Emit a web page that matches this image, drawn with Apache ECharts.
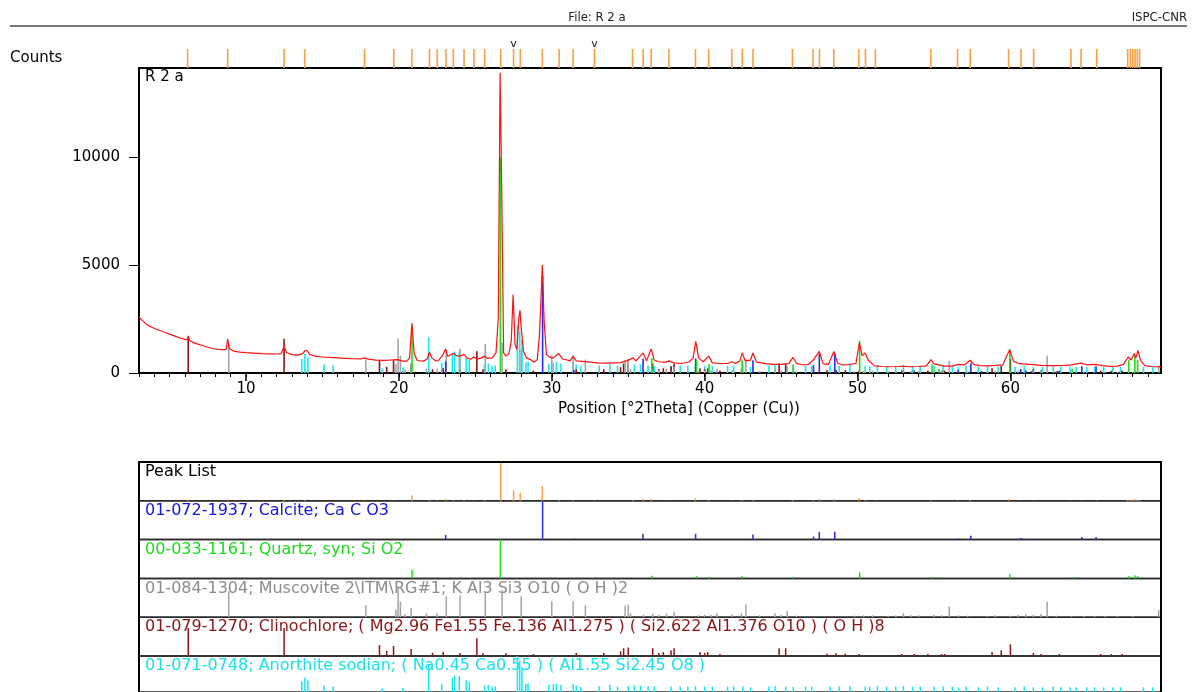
<!DOCTYPE html>
<html><head><meta charset="utf-8">
<script src="https://cdn.jsdelivr.net/npm/echarts@6/dist/echarts.min.js"></script>
<style>html,body{margin:0;padding:0;background:#fff}#c{width:1197px;height:692px}</style>
</head><body><div id="c"></div>
<script>
// ---------------- DATA ----------------
// measured pattern: [2theta, counts]
const pattern = [
[3.0,2600],[3.2,2450],[3.5,2250],[3.8,2130],[4.1,2040],[4.5,1930],[4.9,1820],[5.3,1720],[5.7,1620],[6.0,1560],
[6.15,1540],[6.22,1720],[6.3,1520],[6.5,1430],[6.8,1350],[7.2,1260],[7.6,1170],[8.0,1110],[8.4,1080],[8.7,1090],
[8.8,1570],[8.9,1150],[9.2,1010],[9.6,970],[10.0,940],[10.5,920],[11.0,900],[11.5,890],[12.0,880],[12.3,900],
[12.49,1230],[12.65,950],[13.0,850],[13.4,830],[13.7,900],[13.85,1030],[14.0,1040],[14.15,870],[14.5,780],[15.0,740],
[15.5,720],[16.0,700],[16.5,680],[17.0,660],[17.5,650],[17.75,700],[18.0,640],[18.5,600],[19.0,580],[19.3,590],
[19.6,610],[19.9,620],[20.2,560],[20.5,540],[20.7,700],[20.85,2300],[21.0,900],[21.2,580],[21.6,550],[21.85,650],
[22.0,960],[22.15,700],[22.4,560],[22.6,580],[22.85,800],[23.05,1110],[23.2,760],[23.45,880],[23.6,900],[23.8,780],
[24.05,800],[24.25,860],[24.45,700],[24.7,640],[24.91,750],[25.1,640],[25.4,700],[25.61,780],[25.8,680],[26.1,700],
[26.35,930],[26.5,2500],[26.62,13900],[26.72,8800],[26.85,930],[27.0,780],[27.2,900],[27.35,1500],[27.47,3620],[27.6,1300],
[27.72,1100],[27.85,2600],[27.92,2900],[28.0,2100],[28.15,1000],[28.35,700],[28.6,620],[28.85,500],[29.05,620],[29.2,1800],
[29.38,5000],[29.5,2400],[29.65,850],[29.9,720],[30.1,700],[30.45,900],[30.7,650],[31.0,600],[31.2,560],[31.39,770],
[31.6,560],[32.0,540],[32.5,500],[33.0,470],[33.5,460],[34.0,470],[34.5,480],[34.9,560],[35.1,620],[35.3,700],
[35.5,560],[35.98,930],[36.2,560],[36.5,1110],[36.7,600],[37.0,520],[37.4,490],[37.66,560],[38.0,470],[38.5,440],
[39.0,520],[39.25,700],[39.42,1460],[39.6,700],[39.9,520],[40.27,780],[40.5,470],[41.0,440],[41.5,440],[41.78,520],
[42.0,440],[42.3,560],[42.46,930],[42.65,560],[43.0,600],[43.16,930],[43.4,500],[44.0,430],[44.5,400],[45.0,400],
[45.5,430],[45.78,720],[46.0,460],[46.4,370],[46.8,400],[47.1,600],[47.5,1000],[47.75,420],[48.1,400],[48.45,1000],
[48.7,450],[49.0,380],[49.5,390],[49.9,450],[50.12,1400],[50.3,800],[50.5,930],[50.7,600],[51.1,330],[51.6,300],
[52.0,290],[52.6,300],[53.0,310],[53.5,290],[54.0,300],[54.5,330],[54.8,620],[55.0,420],[55.3,380],[55.7,320],
[56.2,320],[56.6,400],[57.0,380],[57.37,590],[57.6,400],[58.0,340],[58.5,330],[59.0,350],[59.5,380],[59.95,1080],
[60.2,550],[60.5,450],[60.8,420],[61.3,400],[61.6,380],[62.0,350],[62.5,340],[63.0,340],[63.5,350],[64.0,380],
[64.6,460],[65.0,380],[65.6,400],[66.0,340],[66.5,310],[67.0,320],[67.4,400],[67.7,740],[67.9,600],[68.1,900],
[68.2,700],[68.35,1050],[68.5,600],[68.8,340],[69.2,300],[69.5,290],[69.85,280]
];

// peak list: [2theta, relative intensity %]
const peakList = [
[6.18,2],[8.80,4],[12.49,3],[13.84,2],[17.75,1],[19.67,1],[20.85,14],[22.00,3],[22.51,1],[23.08,4],
[23.56,2],[24.26,2],[24.91,1],[25.61,2],[26.66,100],[27.50,27],[27.94,21],[29.38,38],[30.48,2],[31.39,2],
[32.79,1],[35.28,2],[35.98,4],[36.50,4],[37.66,1],[39.40,7],[40.26,2],[41.78,1],[42.46,3],[43.16,3],
[45.74,2],[47.09,3],[47.51,4],[48.45,4],[50.08,7],[50.52,3],[51.17,1],[54.79,2],[56.54,1],[57.37,2],
[59.88,5],[60.69,1],[61.52,1],[63.96,1],[64.62,1],[65.64,1],[67.67,2],[67.85,2],[68.00,3],[68.15,4],
[68.30,3],[68.45,2]
];
const peakMarks = [27.50, 32.79];

// reference patterns: [2theta, relative intensity %]
const calcite = [
[23.06,12],[29.40,100],[31.44,3],[35.97,15],[39.41,15],[43.16,13],[47.12,8],[47.50,20],[48.51,20],[56.57,3],
[57.41,10],[58.10,2],[60.68,4],[61.00,2],[61.38,2],[63.06,2],[64.67,7],[65.60,7]
];
const quartz = [
[20.86,22],[26.64,100],[36.54,7],[39.47,6],[40.29,4],[42.45,6],[45.79,4],[50.14,15],[54.87,4],[55.33,2],
[59.96,11],[64.04,2],[67.74,6],[68.14,8],[68.32,6]
];
const muscovite = [
[8.87,67],[17.84,31],[19.80,20],[19.95,80],[20.10,40],[20.40,8],[20.80,23],[21.80,10],[22.50,10],[23.10,54],
[24.00,56],[25.65,67],[26.75,70],[28.00,54],[30.00,41],[31.40,41],[32.20,31],[34.80,30],[35.00,33],[35.15,10],
[36.00,6],[36.60,8],[37.00,6],[37.50,10],[38.00,14],[39.60,5],[40.00,6],[40.40,6],[40.80,10],[41.80,7],
[42.40,10],[42.70,33],[43.60,5],[44.60,10],[45.00,6],[45.40,16],[46.00,4],[49.80,4],[50.40,5],[51.00,5],
[52.00,4],[52.50,5],[53.00,10],[53.50,5],[54.00,5],[55.00,6],[55.50,5],[56.00,28],[56.60,5],[57.20,4],
[58.50,3],[59.00,5],[60.00,4],[60.50,6],[61.00,8],[61.50,6],[62.00,8],[62.40,40],[63.00,4],[64.00,3],
[64.80,3],[65.50,3],[66.20,3],[67.00,3],[68.00,3],[69.70,18]
];
const clinochlore = [
[6.22,72],[12.49,72],[18.73,28],[19.20,13],[19.65,26],[20.80,18],[22.20,8],[22.90,10],[24.00,8],[25.10,46],
[25.50,8],[27.00,8],[28.80,5],[31.60,8],[33.40,8],[34.50,12],[34.70,20],[35.00,22],[36.60,20],[37.00,8],
[37.30,10],[37.80,14],[38.00,20],[39.70,10],[40.00,8],[40.20,10],[41.00,5],[44.87,20],[45.30,20],[48.00,6],
[48.60,7],[49.20,6],[50.10,5],[52.90,5],[53.70,5],[54.60,5],[55.50,5],[55.70,5],[58.80,10],[59.40,15],
[60.00,30],[61.50,8],[62.00,5],[63.20,5],[65.90,5],[66.60,5],[67.30,5]
];
const anorthite = [
[13.65,30],[13.85,40],[14.05,32],[15.10,18],[15.70,16],[18.90,10],[20.26,12],[21.95,75],[22.80,22],[23.50,40],
[23.65,45],[23.95,45],[24.40,32],[24.60,28],[25.60,18],[25.85,20],[26.10,14],[26.30,16],[27.75,100],[27.90,88],
[28.05,70],[28.30,22],[28.45,24],[29.80,20],[30.10,22],[30.30,24],[30.60,20],[31.40,22],[31.60,18],[31.90,14],
[33.10,16],[33.80,20],[34.30,15],[35.00,16],[35.40,18],[35.80,18],[36.30,16],[36.70,15],[37.80,15],[38.40,16],
[38.90,15],[39.40,16],[40.00,15],[40.50,15],[41.50,15],[41.90,16],[42.50,15],[43.00,13],[44.20,15],[44.60,17],
[45.30,15],[45.80,15],[46.60,15],[47.00,15],[48.20,15],[48.80,15],[49.50,17],[50.50,15],[50.80,15],[51.30,17],
[51.90,15],[52.50,15],[53.00,17],[53.60,15],[54.10,15],[55.00,15],[55.60,15],[56.20,15],[56.60,13],[57.10,15],
[57.90,13],[58.50,15],[59.20,13],[60.30,13],[60.90,15],[61.50,13],[62.10,13],[62.80,15],[63.30,13],[63.90,13],
[64.30,13],[65.00,13],[65.50,13],[66.10,13],[66.70,13],[67.20,13],[68.70,13],[69.30,13]
];
// counts reached by a 100 % reference line in the main plot
const mainScale = {anorthite:2200, clinochlore:2200, muscovite:2000, calcite:4500, quartz:10000};

const xTickLabels = [10, 20, 30, 40, 50, 60];
const yTickLabels = [0, 5000, 10000];
const rowLabels = [
  'Peak List',
  '01-072-1937; Calcite; Ca C O3',
  '00-033-1161; Quartz, syn; Si O2',
  '01-084-1304; Muscovite 2\\ITM\\RG#1; K Al3 Si3 O10 ( O H )2',
  '01-079-1270; Clinochlore; ( Mg2.96 Fe1.55 Fe.136 Al1.275 ) ( Si2.622 Al1.376 O10 ) ( O H )8',
  '01-071-0748; Anorthite sodian; ( Na0.45 Ca0.55 ) ( Al1.55 Si2.45 O8 )'
];

// ---------------- LAYOUT / STYLE ----------------
const X_MIN = 3, X_MAX = 69.85, Y_MAX = 14120;
const L = 139, W = 1022;
const ROW_TOP = 462, ROW_H = 38.8;
const FONT = '"DejaVu Sans", Verdana, sans-serif';
const C = {
  pattern:'#ff1010', peak:'#f7a048', calcite:'#2a2af0', quartz:'#18e018',
  muscovite:'#a4a4a4', clinochlore:'#8b1414', anorthite:'#18e8f0'
};
const labelColors = ['#000000', '#1414e6', '#18dd18', '#8c8c8c', '#8b1414', '#18e0ee'];

function stick(color, width) {
  return function (params, api) {
    const x = api.value(0), h = api.value(1);
    const p0 = api.coord([x, 0]), p1 = api.coord([x, h]);
    return {type:'line', shape:{x1:p0[0], y1:p0[1], x2:p1[0], y2:p1[1]},
            style:{stroke:color, lineWidth:width}};
  };
}
const scaled = (arr, s) => arr.map(d => [d[0], d[1] * s / 100]);

const minorTicks = [];
for (let t = Math.ceil(X_MIN); t <= X_MAX; t++) minorTicks.push(t);

const grids = [
  {left:L, top:68, width:W, height:305, show:true, borderColor:'#000', borderWidth:2},
  {left:L, top:49, width:W, height:19}
];
for (let i = 0; i < 6; i++) grids.push({left:L, top:ROW_TOP + i*ROW_H, width:W, height:ROW_H,
  show:true, borderColor:'#2a2a2a', borderWidth:1.5});

const hiddenX = g => ({type:'value', gridIndex:g, min:X_MIN, max:X_MAX, show:false});
const xAxes = [
  {type:'value', gridIndex:0, min:X_MIN, max:X_MAX,
   axisLine:{lineStyle:{color:'#000', width:2}},
   axisTick:{customValues:minorTicks, length:4, lineStyle:{color:'#000', width:1}},
   axisLabel:{show:false}, splitLine:{show:false}},
  {type:'value', gridIndex:0, min:X_MIN, max:X_MAX, position:'bottom',
   axisLine:{show:false},
   axisTick:{customValues:xTickLabels, length:8, lineStyle:{color:'#000', width:1.5}},
   axisLabel:{customValues:xTickLabels, fontSize:15, fontFamily:FONT, color:'#000', margin:9},
   splitLine:{show:false}},
  hiddenX(1)
];
for (let i = 0; i < 6; i++) xAxes.push(hiddenX(2 + i));

const yAxes = [
  {type:'value', gridIndex:0, min:0, max:Y_MAX,
   axisLine:{show:true, lineStyle:{color:'#000', width:2}},
   axisTick:{customValues:yTickLabels, length:10, lineStyle:{color:'#000', width:1}},
   axisLabel:{customValues:yTickLabels, fontSize:15, fontFamily:FONT, color:'#000', margin:19,
              formatter:v => String(v)},
   splitLine:{show:false}},
  {type:'value', gridIndex:1, min:0, max:1, show:false}
];
for (let i = 0; i < 6; i++) yAxes.push({type:'value', gridIndex:2 + i, min:0, max:100, show:false});

const series = [];
// main plot reference sticks
[['anorthite', anorthite], ['clinochlore', clinochlore], ['muscovite', muscovite],
 ['calcite', calcite], ['quartz', quartz]].forEach(([k, arr]) => {
  series.push({type:'custom', xAxisIndex:0, yAxisIndex:0, clip:true, z:2,
    renderItem:stick(C[k], 1.6), data:scaled(arr, mainScale[k])});
});
series.push({type:'line', xAxisIndex:0, yAxisIndex:0, data:pattern, showSymbol:false, z:5,
  lineStyle:{color:C.pattern, width:1.2}, clip:true});
// peak markers above the plot
series.push({type:'custom', xAxisIndex:2, yAxisIndex:1, renderItem:stick(C.peak, 1.6),
  data:peakList.map(d => [d[0], 1])});
series.push({type:'custom', xAxisIndex:2, yAxisIndex:1,
  renderItem:function (params, api) {
    const p = api.coord([api.value(0), 1]);
    return {type:'text', x:p[0], y:p[1] - 5,
      style:{text:'v', fill:'#111', font:'11px ' + FONT, align:'center', verticalAlign:'middle'}};
  },
  data:peakMarks.map(p => [p, 1])});
// bottom rows
const rowData = [peakList, calcite, quartz, muscovite, clinochlore, anorthite];
const rowColors = [C.peak, C.calcite, C.quartz, C.muscovite, C.clinochlore, C.anorthite];
rowData.forEach((arr, i) => {
  series.push({type:'custom', xAxisIndex:3 + i, yAxisIndex:2 + i, z:3,
    renderItem:stick(rowColors[i], 1.5), data:arr});
});

const graphic = [
  {type:'line', shape:{x1:10, y1:26, x2:1187, y2:26}, style:{stroke:'#777', lineWidth:2}},
  {type:'text', x:597, y:18, style:{text:'File: R 2 a', fill:'#222',
    font:'13px "DejaVu Sans Condensed", "Liberation Sans Narrow", sans-serif', align:'center', verticalAlign:'middle'}},
  {type:'text', x:1187, y:18, style:{text:'ISPC-CNR', fill:'#222',
    font:'13px "DejaVu Sans Condensed", "Liberation Sans Narrow", sans-serif', align:'right', verticalAlign:'middle'}},
  {type:'text', x:10, y:58, style:{text:'Counts', fill:'#000', font:'15px ' + FONT, verticalAlign:'middle'}},
  {type:'text', x:145, y:77, z:10, style:{text:'R 2 a', fill:'#000', font:'15px ' + FONT, verticalAlign:'middle'}},
  {type:'text', x:679, y:409, style:{text:'Position [°2Theta] (Copper (Cu))', fill:'#000',
    font:'15px ' + FONT, align:'center', verticalAlign:'middle'}},
  {type:'rect', shape:{x:L, y:ROW_TOP, width:W, height:260}, z:20,
    style:{fill:'none', stroke:'#000', lineWidth:2}}
];
rowLabels.forEach((t, i) => {
  graphic.push({type:'text', x:145, y:ROW_TOP + i*ROW_H + 10,
    style:{text:t, fill:labelColors[i], font:'16px ' + FONT, verticalAlign:'middle'}});
});

const chart = echarts.init(document.getElementById('c'), null, {renderer:'canvas'});
chart.setOption({
  animation:false, backgroundColor:'#fff',
  grid:grids, xAxis:xAxes, yAxis:yAxes, series:series, graphic:graphic
});
</script></body></html>
